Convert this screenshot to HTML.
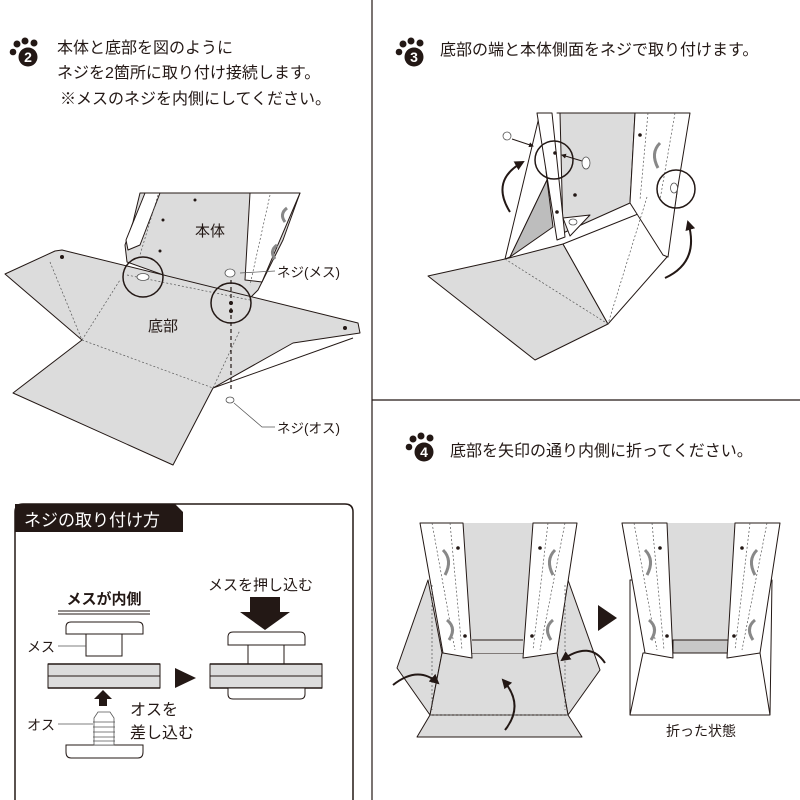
<!DOCTYPE html>
<html><head><meta charset="utf-8"><style>
html,body{margin:0;padding:0;background:#fff;}
svg{display:block;}
text{font-family:"Liberation Sans","Noto Sans CJK JP",sans-serif;fill:#231815;}
</style></head><body>
<svg width="800" height="800" viewBox="0 0 800 800" xmlns="http://www.w3.org/2000/svg">
<defs>
<marker id="ah" viewBox="0 0 10 10" refX="8" refY="5" markerWidth="5" markerHeight="5" orient="auto"><path d="M0,0 L10,5 L0,10 z" fill="#231815"/></marker>
<g id="paw">
<circle cx="-15" cy="-5" r="3.3" fill="#231815"/><circle cx="-11" cy="-13" r="3.5" fill="#231815"/><circle cx="-3" cy="-16" r="3.5" fill="#231815"/><circle cx="6" cy="-14" r="3.5" fill="#231815"/>
<circle cx="0" cy="0" r="9.5" fill="#231815"/>
</g>
</defs>
<line x1="372" y1="0" x2="372" y2="800" stroke="#231815" stroke-width="1.2"/>
<line x1="372" y1="400" x2="800" y2="400" stroke="#231815" stroke-width="1.2"/>

<use href="#paw" x="28" y="57"/><text x="28" y="62" font-size="14" font-weight="bold" text-anchor="middle" style="fill:#fff">2</text>
<text x="57" y="53" font-size="16">本体と底部を図のように</text>
<text x="57" y="78" font-size="16">ネジを2箇所に取り付け接続します。</text>
<text x="60" y="104" font-size="16">※メスのネジを内側にしてください。</text>

<g stroke="#231815" stroke-width="1" stroke-linejoin="round">
<polygon points="140,193 300,193 283,240 258,290 248,300 228,298 127,262 125,245 133,222" fill="#dcdcdc"/>
<polygon points="250,193 300,193 262,282 245,280" fill="#fff"/>
<polygon points="145,193 160,193 140,245 128,250 126,240" fill="#fff"/>
<polygon points="5,274 55,251 62,250 358,323 360,333 293,343 213,388 173,465 13,393 82,340" fill="#dcdcdc"/>
<polyline points="213,388 353,338" fill="none"/>
</g>
<g stroke="#555" stroke-width="0.7" stroke-dasharray="2,2" fill="none">
<line x1="50" y1="262" x2="82" y2="340"/><line x1="82" y1="340" x2="213" y2="388"/><line x1="82" y1="340" x2="120" y2="280"/><line x1="213" y1="388" x2="240" y2="330"/><line x1="127" y1="275" x2="250" y2="300"/>
<line x1="158" y1="195" x2="140" y2="255"/><line x1="270" y1="195" x2="250" y2="285"/>
</g>
<path d="M287,208 q-8,6 -2,14" fill="none" stroke="#888" stroke-width="3"/>
<path d="M277,245 q-8,6 -2,14" fill="none" stroke="#888" stroke-width="3"/>
<circle cx="62" cy="257" r="2" fill="#231815"/><circle cx="345" cy="328" r="2" fill="#231815"/>
<circle cx="195" cy="200" r="1.5" fill="#231815"/><circle cx="163" cy="220" r="1.5" fill="#231815"/><circle cx="160" cy="251" r="1.5" fill="#231815"/>
<ellipse cx="143" cy="277" rx="6" ry="3.5" fill="#fff" stroke="#555" stroke-width="0.8"/>
<circle cx="143" cy="277" r="20" fill="none" stroke="#231815" stroke-width="1.5"/>
<circle cx="231" cy="303" r="20" fill="none" stroke="#231815" stroke-width="1.5"/>
<line x1="231" y1="280" x2="231" y2="392" stroke="#231815" stroke-width="1.2" stroke-dasharray="4,3"/>
<circle cx="231" cy="303" r="2" fill="#231815"/><circle cx="231" cy="311" r="2" fill="#231815"/>
<ellipse cx="230" cy="273" rx="5" ry="4" fill="#fff" stroke="#555" stroke-width="0.8"/>
<ellipse cx="230" cy="400" rx="4" ry="3" fill="#fff" stroke="#555" stroke-width="0.8"/>
<line x1="240" y1="273" x2="275" y2="271" stroke="#555" stroke-width="0.7"/>
<polyline points="234,403 262,427 275,427" fill="none" stroke="#555" stroke-width="0.7"/>
<text x="277" y="277" font-size="13.5">ネジ(メス)</text>
<text x="277" y="433" font-size="13.5">ネジ(オス)</text>
<text x="210" y="236" font-size="15" text-anchor="middle">本体</text>
<text x="163" y="331" font-size="15" text-anchor="middle">底部</text>

<path d="M15,800 L15,512 Q15,504 23,504 L345,504 Q353,504 353,512 L353,800" fill="none" stroke="#231815" stroke-width="1.5"/>
<path d="M15,504 L175,504 L183,512 L183,532 L15,532 z" fill="#231815"/>
<text x="24" y="526" font-size="17" style="fill:#fff">ネジの取り付け方</text>
<text x="104" y="604" font-size="15" font-weight="bold" text-anchor="middle">メスが内側</text>
<line x1="58" y1="611" x2="150" y2="611" stroke="#231815"/><line x1="58" y1="614" x2="150" y2="614" stroke="#231815"/>
<g stroke="#231815" stroke-width="1">
<path d="M66,634 L66,627 Q66,622 71,622 L138,622 Q143,622 143,627 L143,634 z" fill="#fff"/>
<rect x="86" y="634" width="36" height="22" fill="#fff"/>
<rect x="48" y="664" width="112" height="24" fill="#dcdcdc"/><line x1="48" y1="676" x2="160" y2="676"/>
<line x1="48" y1="664" x2="160" y2="664" stroke-width="1.5"/><line x1="48" y1="688" x2="160" y2="688" stroke-width="1.5"/>
<path d="M66,745 L66,752 Q66,758 71,758 L138,758 Q143,758 143,752 L143,745 z" fill="#fff"/>
<path d="M228,645 L228,637 Q228,632 233,632 L300,632 Q305,632 305,637 L305,645 z" fill="#fff"/>
<rect x="248" y="645" width="36" height="19" fill="#fff"/>
<rect x="210" y="664" width="112" height="24" fill="#dcdcdc"/><line x1="210" y1="676" x2="322" y2="676"/>
<line x1="210" y1="664" x2="322" y2="664" stroke-width="1.5"/><line x1="210" y1="688" x2="322" y2="688" stroke-width="1.5"/>
<path d="M228,688 L228,694 Q228,699 233,699 L300,699 Q305,699 305,694 L305,688 z" fill="#fff"/>
</g>
<g stroke="#555" stroke-width="0.8" fill="#fff">
<path d="M94,745 L94,718 L98,712 L110,712 L114,718 L114,745 z"/>
<line x1="93" y1="722" x2="115" y2="722"/><line x1="93" y1="727" x2="115" y2="727"/><line x1="93" y1="732" x2="115" y2="732"/><line x1="93" y1="737" x2="115" y2="737"/><line x1="93" y1="741" x2="115" y2="741"/>
</g>
<polygon points="103,690 94,699 99,699 99,706 107,706 107,699 112,699" fill="#231815"/>
<polygon points="250,597 280,597 280,612 290,612 265,630 240,612 250,612" fill="#231815"/>
<polygon points="175,668 196,678 175,688" fill="#231815"/>
<text x="27" y="652" font-size="14">メス</text><line x1="58" y1="646" x2="86" y2="646" stroke="#555" stroke-width="0.7"/>
<text x="27" y="730" font-size="14">オス</text><line x1="58" y1="724" x2="93" y2="724" stroke="#555" stroke-width="0.7"/>
<text x="130" y="715" font-size="16">オスを</text>
<text x="130" y="738" font-size="16">差し込む</text>
<text x="208" y="590" font-size="15">メスを押し込む</text>

<use href="#paw" x="414" y="57"/><text x="414" y="62" font-size="14" font-weight="bold" text-anchor="middle" style="fill:#fff">3</text>
<text x="440" y="55" font-size="16">底部の端と本体側面をネジで取り付けます。</text>
<g stroke="#231815" stroke-width="1" stroke-linejoin="round">
<polygon points="557,113 635,113 630,203 563,233 560,113" fill="#dcdcdc"/>
<polygon points="540,113 505,259 510,257 547,180" fill="#fff"/>
<polygon points="547,180 553,227 510,257" fill="#bdbdbd"/>
<polygon points="428,276 505,259 563,244 608,324 535,360" fill="#dcdcdc"/>
<polygon points="563,244 648,210 677,192 667,257 608,324" fill="#fff"/>
<polygon points="635,113 690,113 677,192 668,257 663,255 630,203" fill="#fff"/>
<polygon points="537,113 552,113 565,237 557,240" fill="#fff"/>
<polygon points="563,218 590,215 570,236" fill="#fff"/>
</g>
<g stroke="#555" stroke-width="0.7" stroke-dasharray="2,2" fill="none">
<line x1="505" y1="259" x2="608" y2="324"/><line x1="647" y1="197" x2="608" y2="324"/><line x1="648" y1="113" x2="640" y2="200"/><line x1="675" y1="113" x2="660" y2="200"/>
</g>
<path d="M660,143 q-10,10 -2,25" fill="none" stroke="#888" stroke-width="3"/>
<circle cx="555" cy="153" r="1.8" fill="#231815"/><circle cx="575" cy="195" r="1.8" fill="#231815"/><circle cx="557" cy="212" r="1.8" fill="#231815"/><circle cx="640" cy="135" r="1.8" fill="#231815"/>
<ellipse cx="573" cy="222" rx="4" ry="3" fill="#fff" stroke="#555" stroke-width="0.8"/>
<ellipse cx="674" cy="188" rx="3.5" ry="5" fill="#fff" stroke="#555" stroke-width="0.8"/>
<circle cx="554" cy="160" r="19" fill="none" stroke="#231815" stroke-width="1.5"/>
<circle cx="676" cy="189" r="19" fill="none" stroke="#231815" stroke-width="1.5"/>
<ellipse cx="507" cy="136" rx="4" ry="4" fill="#fff" stroke="#555" stroke-width="0.8"/>
<ellipse cx="586" cy="163" rx="4" ry="6" fill="#fff" stroke="#555" stroke-width="0.8"/>
<line x1="512" y1="139" x2="533" y2="146" stroke="#231815" stroke-width="1" marker-end="url(#ah)"/>
<line x1="582" y1="161" x2="562" y2="155" stroke="#231815" stroke-width="1" marker-end="url(#ah)"/>
<path d="M510,212 Q490,180 523,162" fill="none" stroke="#231815" stroke-width="2" marker-end="url(#ah)"/>
<path d="M665,278 Q700,262 688,222" fill="none" stroke="#231815" stroke-width="2" marker-end="url(#ah)"/>

<use href="#paw" x="424" y="452"/><text x="424" y="457" font-size="14" font-weight="bold" text-anchor="middle" style="fill:#fff">4</text>
<text x="450" y="456" font-size="16">底部を矢印の通り内側に折ってください。</text>
<g stroke="#231815" stroke-width="1" stroke-linejoin="round">
<polygon points="428,580 442,653 430,715 397,668" fill="#dcdcdc"/>
<polygon points="568,580 600,670 568,715 557,653" fill="#dcdcdc"/>
<polygon points="442,653 557,653 568,715 430,715" fill="#dcdcdc"/>
<polygon points="463,523 533,523 523,653 472,653" fill="#dcdcdc" stroke="none"/>
<line x1="472" y1="640" x2="523" y2="640"/>
<polygon points="430,715 568,715 582,737 417,737" fill="#dcdcdc"/>
<polygon points="420,523 463,523 472,658 443,653" fill="#fff"/>
<polygon points="533,523 577,523 557,653 523,658" fill="#fff"/>
<polygon points="630,580 772,580 770,715 630,715" fill="#fff"/>
<polyline points="630,715 643,653 760,653 770,715" fill="none"/>
<polygon points="667,523 735,523 728,653 673,653" fill="#dcdcdc" stroke="none"/>
<line x1="673" y1="640" x2="728" y2="640"/>
<polygon points="673,640 728,640 728,653 673,653" fill="#c8c8c8"/>
<polygon points="622,523 667,523 673,658 645,653" fill="#fff"/>
<polygon points="735,523 780,523 760,653 727,658" fill="#fff"/>
</g>
<g stroke="#555" stroke-width="0.7" stroke-dasharray="2,2" fill="none">
<line x1="430" y1="715" x2="568" y2="715"/><line x1="432" y1="585" x2="432" y2="710"/><line x1="565" y1="585" x2="565" y2="710"/>
<line x1="432" y1="523" x2="455" y2="650"/><line x1="450" y1="523" x2="462" y2="650"/><line x1="565" y1="523" x2="540" y2="650"/><line x1="548" y1="523" x2="533" y2="650"/>
<line x1="634" y1="523" x2="657" y2="650"/><line x1="652" y1="523" x2="664" y2="650"/><line x1="767" y1="523" x2="742" y2="650"/><line x1="750" y1="523" x2="735" y2="650"/>
</g>
<g fill="none" stroke="#888" stroke-width="3">
<path d="M443,550 q10,10 2,25"/><path d="M447,620 q10,8 2,20"/><path d="M555,550 q-10,10 -2,25"/><path d="M553,620 q-10,8 -2,20"/>
<path d="M645,550 q10,10 2,25"/><path d="M649,620 q10,8 2,20"/><path d="M757,550 q-10,10 -2,25"/><path d="M755,620 q-10,8 -2,20"/>
</g>
<g fill="#231815">
<circle cx="458" cy="548" r="1.8"/><circle cx="465" cy="636" r="1.8"/><circle cx="540" cy="548" r="1.8"/><circle cx="532" cy="636" r="1.8"/>
<circle cx="660" cy="548" r="1.8"/><circle cx="667" cy="636" r="1.8"/><circle cx="742" cy="548" r="1.8"/><circle cx="734" cy="636" r="1.8"/>
</g>
<path d="M393,685 Q418,665 438,683" fill="none" stroke="#231815" stroke-width="2" marker-end="url(#ah)"/>
<path d="M505,730 Q525,705 503,680" fill="none" stroke="#231815" stroke-width="2" marker-end="url(#ah)"/>
<path d="M605,663 Q590,640 562,660" fill="none" stroke="#231815" stroke-width="2" marker-end="url(#ah)"/>
<polygon points="598,605 617,618 598,631" fill="#231815"/>
<text x="701" y="736" font-size="14" text-anchor="middle">折った状態</text>
</svg>
</body></html>
